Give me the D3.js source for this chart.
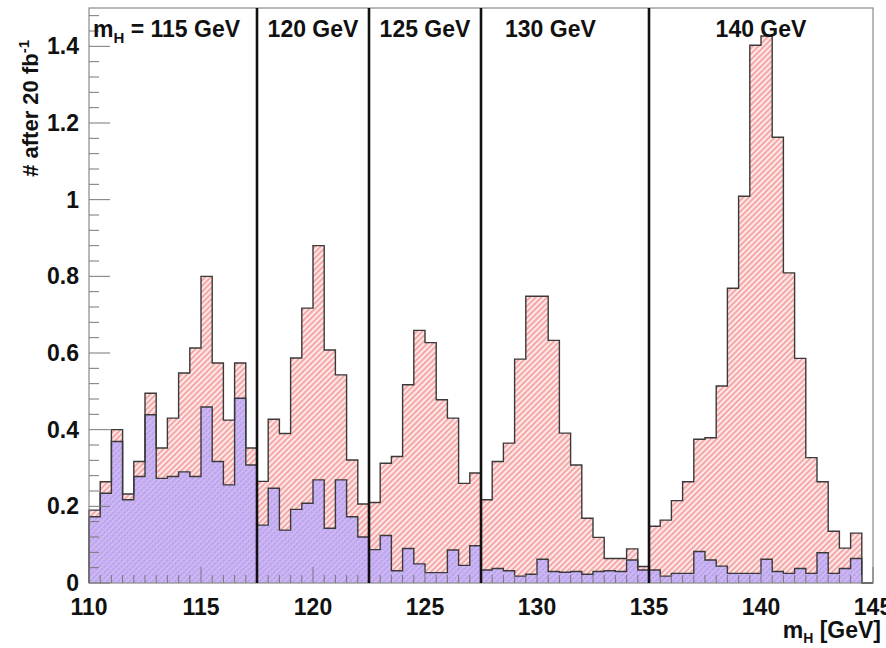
<!DOCTYPE html>
<html><head><meta charset="utf-8">
<script src="https://cdn.jsdelivr.net/npm/d3@7"></script>
<style>body{margin:0;background:#fff}text{font-family:"Liberation Sans",Arial,sans-serif;font-weight:bold}</style>
</head><body><svg id="c" width="886" height="648"></svg>
<script>
// ---- data (0.5 GeV bins from 110 to 145) ----
const binEdgesStart = 110, binWidth = 0.5;
const signalPlusBackground = [
  0.19,0.264,0.40,0.232,0.317,0.495,0.352,0.43,0.548,0.613,0.80,0.574,0.425,0.574,0.352,
  0.265,0.427,0.39,0.587,0.717,0.88,0.608,0.543,0.321,0.206,
  0.21,0.3125,0.33,0.517,0.659,0.627,0.478,0.43,0.26,0.287,
  0.217,0.317,0.365,0.584,0.748,0.748,0.633,0.391,0.308,0.169,0.119,0.064,0.064,0.089,0.043,
  0.148,0.164,0.215,0.264,0.375,0.379,0.514,0.769,1.009,1.403,1.427,1.163,0.809,0.586,0.327,0.264,0.135,0.091,0.13,0
];
const background = [
  0.173,0.234,0.369,0.217,0.278,0.439,0.273,0.278,0.29,0.278,0.459,0.317,0.256,0.482,0.308,
  0.151,0.247,0.138,0.192,0.208,0.269,0.143,0.269,0.173,0.12,
  0.087,0.124,0.032,0.09,0.05,0.027,0.027,0.086,0.046,0.097,
  0.034,0.038,0.032,0.018,0.023,0.062,0.03,0.028,0.03,0.023,0.03,0.032,0.03,0.06,0.034,
  0.034,0.018,0.025,0.025,0.082,0.06,0.044,0.025,0.025,0.025,0.062,0.03,0.025,0.038,0.025,0.079,0.025,0.038,0.064,0
];
const windowEdges = [117.5, 122.5, 127.5, 135];
const massLabels = ["115 GeV", "120 GeV", "125 GeV", "130 GeV", "140 GeV"];
const xTickValues = [110, 115, 120, 125, 130, 135, 140, 145];
const yTickValues = [0, 0.2, 0.4, 0.6, 0.8, 1, 1.2, 1.4];

// ---- layout ----
const svg = d3.select("#c");
const L = 89, R = 873, T = 8, B = 583;
const x = d3.scaleLinear().domain([110, 145]).range([L, R]);
const y = d3.scaleLinear().domain([0, 1.5]).range([B, T]);

const defs = svg.append("defs");
const pr = defs.append("pattern").attr("id","redH").attr("patternUnits","userSpaceOnUse")
  .attr("width",4).attr("height",4).attr("patternTransform","rotate(45)");
pr.append("rect").attr("width",4).attr("height",4).attr("fill","#fff0f0");
pr.append("rect").attr("width",2.2).attr("height",4).attr("fill","#f5a8a8");

const pb = defs.append("pattern").attr("id","blueH").attr("patternUnits","userSpaceOnUse")
  .attr("width",4).attr("height",4).attr("patternTransform","rotate(45)");
pb.append("rect").attr("width",4).attr("height",4).attr("fill","#b7a6f3");
pb.append("rect").attr("width",1.2).attr("height",4).attr("fill","#e3c1ea");
pb.append("rect").attr("width",4).attr("height",1).attr("fill","#c9b3f0");

svg.append("rect").attr("x",L).attr("y",T).attr("width",R-L).attr("height",B-T).attr("fill","#fff");

function stepPoints(vals){
  const pts = [[binEdgesStart, 0]];
  vals.forEach((v,i)=>{
    const lo = binEdgesStart + i*binWidth, hi = lo + binWidth;
    pts.push([lo, v]); pts.push([hi, v]);
  });
  pts.push([binEdgesStart + vals.length*binWidth, 0]);
  return pts;
}
const line = d3.line().x(d=>x(d[0])).y(d=>y(d[1]));

const totPts = stepPoints(signalPlusBackground);
const bgPts = stepPoints(background);
svg.append("path").attr("d", line(totPts)+"Z").attr("fill","url(#redH)").attr("stroke","none");
svg.append("path").attr("d", line(bgPts)+"Z").attr("fill","url(#blueH)").attr("stroke","none");
svg.append("path").attr("d", line(totPts)).attr("fill","none").attr("stroke","#3a3a3a").attr("stroke-width",1.4);
svg.append("path").attr("d", line(bgPts)).attr("fill","none").attr("stroke","#3a3a3a").attr("stroke-width",1.4);

svg.append("rect").attr("x",L).attr("y",T).attr("width",R-L).attr("height",B-T)
  .attr("fill","none").attr("stroke","#8a8a8a").attr("stroke-width",1.2);

const yMinor = d3.range(0, 1.5001, 0.04);
svg.append("g").selectAll("line").data(yMinor).join("line")
  .attr("x1",L).attr("x2",d=> (Math.abs(d/0.2 - Math.round(d/0.2))<1e-6) ? L+21 : L+10)
  .attr("y1",d=>y(d)).attr("y2",d=>y(d)).attr("stroke","#777").attr("stroke-width",1);
const xMinor = d3.range(110, 145.001, 0.5);
svg.append("g").selectAll("line").data(xMinor).join("line")
  .attr("x1",d=>x(d)).attr("x2",d=>x(d)).attr("y1",B)
  .attr("y2",d=> (Math.abs(d/5 - Math.round(d/5))<1e-6) ? B-16 : B-8)
  .attr("stroke","#777").attr("stroke-width",1);

svg.append("g").selectAll("line").data(windowEdges).join("line")
  .attr("x1",d=>x(d)).attr("x2",d=>x(d)).attr("y1",B).attr("y2",T)
  .attr("stroke","#111").attr("stroke-width",2.6);

svg.append("g").selectAll("text").data(yTickValues).join("text")
  .attr("x",L-10).attr("y",d=>y(d)+8).attr("text-anchor","end")
  .attr("font-size",23).attr("fill","#111").text(d=>d3.format("")(d));
svg.append("g").selectAll("text").data(xTickValues).join("text")
  .attr("x",d=>x(d)).attr("y",B+32).attr("text-anchor","middle")
  .attr("font-size",23).attr("fill","#111").text(d=>d);

const yt = svg.append("text").attr("transform","translate(38,40) rotate(-90)")
  .attr("text-anchor","end").attr("font-size",22).attr("fill","#111");
yt.append("tspan").text("# after 20 fb");
yt.append("tspan").attr("dy",-9).attr("font-size",15).text("-1");

const xt = svg.append("text").attr("x",881).attr("y",638).attr("text-anchor","end")
  .attr("font-size",23).attr("fill","#111");
xt.append("tspan").text("m");
xt.append("tspan").attr("dy",5).attr("font-size",14).text("H");
xt.append("tspan").attr("dy",-5).text(" [GeV]");

const labelPos = [null, 120, 125, 130.6, 140];
massLabels.forEach((lab,i)=>{
  if(i===0){
    const t = svg.append("text").attr("x",x(110)+4).attr("y",37).attr("font-size",23).attr("fill","#111");
    t.append("tspan").text("m");
    t.append("tspan").attr("dy",6).attr("font-size",15).text("H");
    t.append("tspan").attr("dy",-6).text(" = " + lab);
  } else {
    svg.append("text").attr("x",x(labelPos[i])).attr("y",37).attr("text-anchor","middle")
      .attr("font-size",23).attr("fill","#111").text(lab);
  }
});
</script></body></html>
